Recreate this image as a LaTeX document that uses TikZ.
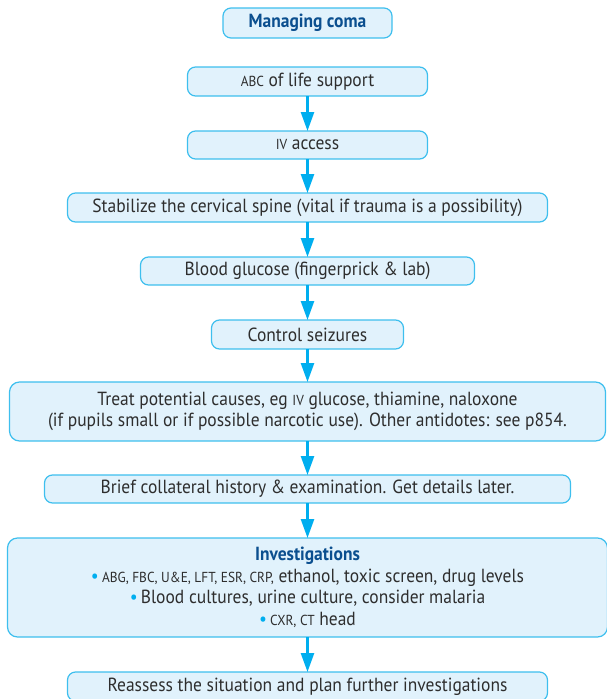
\documentclass[tikz,border=0pt]{standalone}
\usepackage{fontspec}
\setmainfont{PT Sans}[FakeStretch=0.92]
\usepackage{xcolor}
\usetikzlibrary{positioning,arrows.meta}

\definecolor{boxfill}{HTML}{E1F2FC}
\definecolor{boxline}{HTML}{3EBFEE}
\definecolor{flowcyan}{HTML}{00AEEF}
\definecolor{titleblue}{HTML}{0B4F8F}
\definecolor{bodytext}{HTML}{2E2E2E}
\newcommand{\smc}[1]{{\fontsize{14.5}{14.5}\selectfont #1}}
\newcommand{\dotitem}{{\color{flowcyan}\raisebox{0.3pt}{\textbullet}}\,}

\begin{document}
\begin{tikzpicture}[
  x=1pt, y=-1pt,
  node distance=34pt,
  stepbox/.style={draw=boxline, line width=1.2pt, fill=boxfill, rounded corners=8pt,
    text=bodytext, font=\fontsize{19}{21.5}\selectfont, align=center,
    minimum height=29pt, inner sep=2pt, outer sep=0pt},
  flow/.style={draw=flowcyan, line width=2.6pt, -{Triangle[length=19pt,width=13pt]}}
]
\clip (0,0) rectangle (607,699);
\useasboundingbox (0,0) rectangle (607,699);
% title and chain of steps
\node[stepbox, minimum width=169pt, minimum height=30pt, text=titleblue,
  font=\fontsize{19}{21.5}\selectfont\bfseries] (title) at (307.5,23) {Managing coma};
\node[stepbox, minimum width=240pt, below=29pt of title] (abc) {\smc{ABC} of life support};
\node[stepbox, minimum width=240pt, minimum height=28pt, below=35pt of abc] (iv) {\smc{IV} access};
\node[stepbox, minimum width=480pt, below=of iv] (spine)
  {Stabilize the cervical spine (vital if trauma is a possibility)};
\node[stepbox, minimum width=334pt, minimum height=28pt, below=35pt of spine] (glucose)
  {Blood glucose (fingerprick \& lab)};
\node[stepbox, minimum width=192pt, below=35pt of glucose] (seizures) {Control seizures};
\node[stepbox, minimum width=596pt, minimum height=59pt, rounded corners=10pt, below=33pt of seizures] (treat)
  {Treat potential causes, eg \smc{IV} glucose, thiamine, naloxone\\
   (if pupils small or if possible narcotic use). Other antidotes: see p854.};
\node[stepbox, minimum width=526pt, minimum height=28pt, below=of treat] (history)
  {Brief collateral history \& examination. Get details later.};
\node[stepbox, minimum width=600pt, minimum height=99pt, rounded corners=10pt, below=35pt of history] (invest)
  {{\color{titleblue}\bfseries Investigations}\\
   \dotitem\smc{ABG, FBC, U\&E, LFT, ESR, CRP,} ethanol, toxic screen, drug levels\\
   \dotitem Blood cultures, urine culture, consider malaria\\
   \dotitem\smc{CXR, CT} head};
\node[stepbox, minimum width=480pt, below=35pt of invest] (reassess)
  {Reassess the situation and plan further investigations};
% connectors
\foreach \a/\b in {abc/iv, iv/spine, spine/glucose, glucose/seizures, seizures/treat,
  treat/history, history/invest, invest/reassess}
  \draw[flow] (\a.south) -- (\b.north);
\end{tikzpicture}
\end{document}
